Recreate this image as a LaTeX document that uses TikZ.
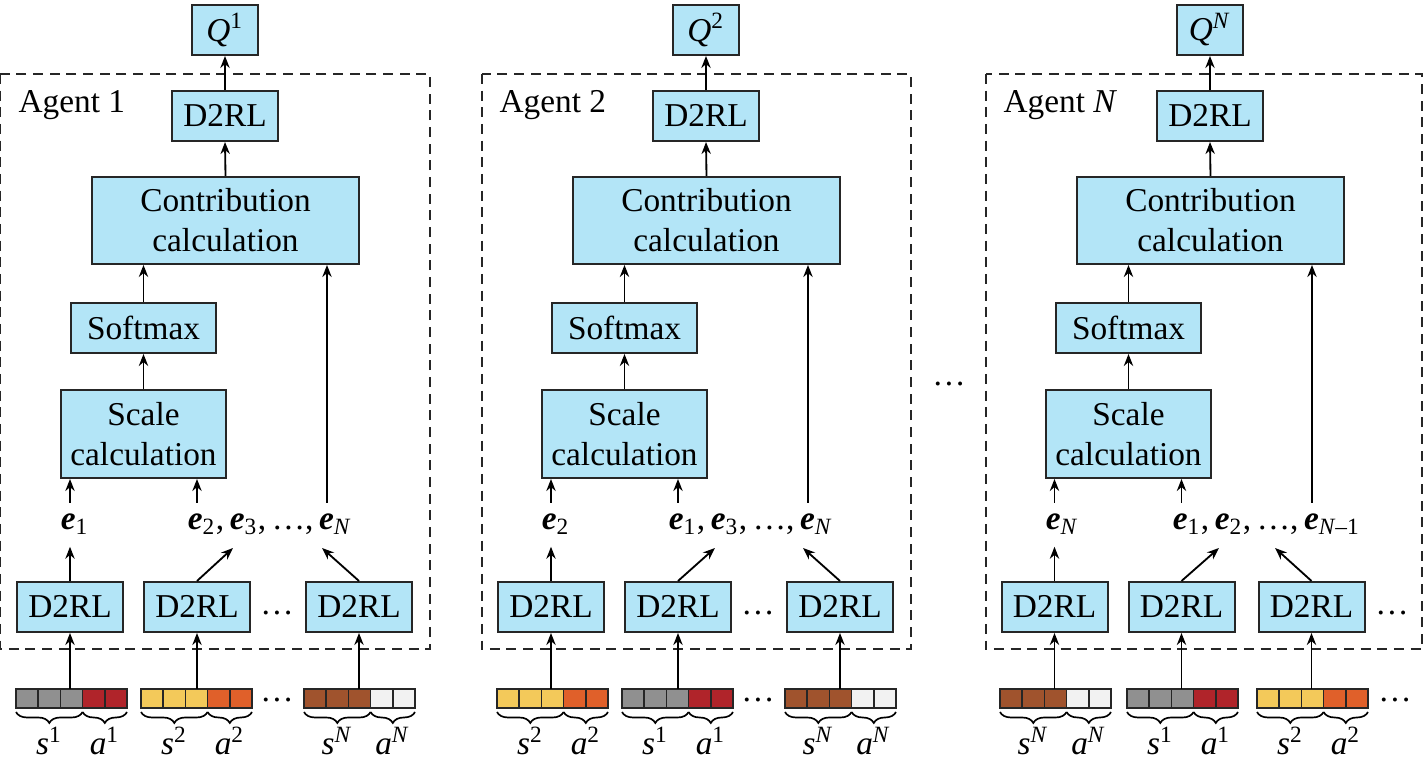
\documentclass[tikz,border=0pt]{standalone}
\usepackage{fontspec}
\setmainfont{Liberation Serif}
\usepackage{tikz}
\usetikzlibrary{arrows.meta, positioning, decorations.pathreplacing}
\definecolor{boxblue}{RGB}{179,229,247}
\definecolor{cgray}{RGB}{144,144,144}
\definecolor{cred}{RGB}{176,36,42}
\definecolor{cyellow}{RGB}{243,201,90}
\definecolor{corange}{RGB}{224,96,42}
\definecolor{cbrown}{RGB}{160,83,45}
\definecolor{cwhite}{RGB}{242,242,242}
\tikzset{
    block/.style={rectangle, draw=black!85, line width=0.6pt, fill=boxblue, inner sep=0pt, minimum width=31.8pt, minimum height=15pt, align=center},
    qbox/.style={block, minimum width=19.8pt},
    contrib/.style={block, minimum width=80.1pt, minimum height=26.1pt},
    softbox/.style={block, minimum width=43.5pt},
    scalebox/.style={block, minimum width=49.5pt, minimum height=26.4pt},
    agentframe/.style={draw=black!85, line width=0.6pt, dash pattern=on 3pt off 2pt},
    cell/.style={draw=black!85, line width=0.5pt},
    inbrace/.style={decorate, decoration={brace, mirror, amplitude=3.3pt}, line width=0.5pt},
    arrow/.style={-{Stealth[length=3.6pt, width=2.8pt]}, line width=0.55pt}
}
\newcommand{\evec}[1]{\textbf{\textit{e}}\textsubscript{#1}}
% input bar: #1 name, #2 left x, #3 state colour, #4 action colour, #5 agent index
\newcommand{\inbar}[5]{%
    \foreach \k in {0,1,2}
        \draw[cell, fill=#3] ({#2+22.2*\k},689) rectangle ++(22.2,19);
    \foreach \k in {3,4}
        \draw[cell, fill=#4] ({#2+22.2*\k},689) rectangle ++(22.2,19);
    \coordinate (#1) at ({#2+55.5},689);
    \draw[inbrace] (#2,712) -- ({#2+66.6},712);
    \draw[inbrace] ({#2+66.6},712) -- ({#2+111},712);
    \node[anchor=base] (#1s) at ({#2+33.3},755) {\textit{s}\textsuperscript{#5}};
    \node[anchor=base] (#1a) at ({#2+88.8},755) {\textit{a}\textsuperscript{#5}};
}
% upper part of one agent: #1 agent label, #2 Q label, #3 frame right edge
\newcommand{\agentcore}[3]{%
    \draw[agentframe] (0.5,74) rectangle (#3,649);
    \node[anchor=base west, inner sep=0pt] (name) at (18,113) {#1};
    \node[qbox] (q) at (225,30) {#2};
    \node[block] (dt) at (225,116) {D2RL};
    \node[contrib] (cc) at (225.5,220.5) {Contribution\\calculation};
    \node[softbox] (sm) at (143.5,328) {Softmax};
    \node[scalebox] (sc) at (143.5,434) {Scale\\calculation};
    \coordinate (lx) at (327,0);
    \draw[arrow] (sc) -- (sm);
    \draw[arrow] (sm.north) -- (sm.north |- cc.south);
    \draw[arrow] (cc.north) -- (dt.south);
    \draw[arrow] (dt) -- (q);
}

\begin{document}
\begin{tikzpicture}[x=0.3pt, y=-0.3pt]
    \useasboundingbox (0,0) rectangle (1424,766);

    % Agent 1
    \begin{scope}[name prefix=a1-]
        \agentcore{Agent 1}{\textit{Q}\textsuperscript{1}}{430}
        \node[block] (d1) at (70,607) {D2RL};
        \node[block] (d2) at (197,607) {D2RL};
        \node[block] (d3) at (359,607) {D2RL};
        \node (dd) at (277,613) {\dots};
        \node[anchor=base west] (eo) at (49,530) {\evec{1}};
        \node[anchor=base west] (er) at (176,530) {\evec{2},\,\evec{3},\,\dots,\,\evec{\textit{N}}};
        \coordinate (el) at (233,548);
        \coordinate (eq) at (322,548);
        \draw[arrow] (d1) -- (d1 |- eo.south);
        \draw[arrow] (d2.north) -- (el);
        \draw[arrow] (d3.north) -- (eq);
        \draw[arrow] (eo.north -| d1) -- (sc.south -| d1);
        \draw[arrow] (er.north -| d2) -- (sc.south -| d2);
        \draw[arrow] (er.north -| lx) -- (cc.south -| lx);
        % inputs
        \inbar{b1}{16}{cgray}{cred}{1}
        \inbar{b2}{141}{cyellow}{corange}{2}
        \inbar{b3}{304}{cbrown}{cwhite}{\textit{N}}
        \node (bd) at (277,700) {\dots};
        \draw[arrow] (b1 -| d1) -- (d1.south);
        \draw[arrow] (b2 -| d2) -- (d2.south);
        \draw[arrow] (b3 -| d3) -- (d3.south);
    \end{scope}

    % Agent 2
    \begin{scope}[shift={(481,0)}, name prefix=a2-]
        \agentcore{Agent 2}{\textit{Q}\textsuperscript{2}}{430}
        \node[block] (d1) at (70,607) {D2RL};
        \node[block] (d2) at (197,607) {D2RL};
        \node[block] (d3) at (359,607) {D2RL};
        \node (dd) at (277,613) {\dots};
        \node[anchor=base west] (eo) at (49,530) {\evec{2}};
        \node[anchor=base west] (er) at (176,530) {\evec{1},\,\evec{3},\,\dots,\,\evec{\textit{N}}};
        \coordinate (el) at (234,548);
        \coordinate (eq) at (322,548);
        \draw[arrow] (d1) -- (d1 |- eo.south);
        \draw[arrow] (d2.north) -- (el);
        \draw[arrow] (d3.north) -- (eq);
        \draw[arrow] (eo.north -| d1) -- (sc.south -| d1);
        \draw[arrow] (er.north -| d2) -- (sc.south -| d2);
        \draw[arrow] (er.north -| lx) -- (cc.south -| lx);
        % inputs
        \inbar{b1}{16}{cyellow}{corange}{2}
        \inbar{b2}{141}{cgray}{cred}{1}
        \inbar{b3}{304}{cbrown}{cwhite}{\textit{N}}
        \node (bd) at (277,700) {\dots};
        \draw[arrow] (b1 -| d1) -- (d1.south);
        \draw[arrow] (b2 -| d2) -- (d2.south);
        \draw[arrow] (b3 -| d3) -- (d3.south);
    \end{scope}

    \node (gap) at (949,384) {\dots};

    % Agent N
    \begin{scope}[shift={(985,0)}, name prefix=aN-]
        \agentcore{Agent \textit{N}}{\textit{Q}\textsuperscript{\textit{N}}}{437}
        \node[block] (d1) at (69.5,607) {D2RL};
        \node[block] (d2) at (196.5,607) {D2RL};
        \node[block] (d3) at (326.5,607) {D2RL};
        \node (dd) at (407,613) {\dots};
        \node[anchor=base west] (eo) at (49,530) {\evec{\textit{N}}};
        \node[anchor=base west] (er) at (176,530) {\evec{1},\,\evec{2},\,\dots,\,\evec{\textit{N}\textendash1}};
        \coordinate (el) at (234,548);
        \coordinate (eq) at (290,548);
        \draw[arrow] (d1) -- (d1 |- eo.south);
        \draw[arrow] (d2.north) -- (el);
        \draw[arrow] (d3.north) -- (eq);
        \draw[arrow] (eo.north -| d1) -- (sc.south -| d1);
        \draw[arrow] (er.north -| d2) -- (sc.south -| d2);
        \draw[arrow] (er.north -| lx) -- (cc.south -| lx);
        % inputs
        \inbar{b1}{15}{cbrown}{cwhite}{\textit{N}}
        \inbar{b2}{142}{cgray}{cred}{1}
        \inbar{b3}{272}{cyellow}{corange}{2}
        \node (bd) at (410,700) {\dots};
        \draw[arrow] (b1 -| d1) -- (d1.south);
        \draw[arrow] (b2 -| d2) -- (d2.south);
        \draw[arrow] (b3 -| d3) -- (d3.south);
    \end{scope}
\end{tikzpicture}
\end{document}
